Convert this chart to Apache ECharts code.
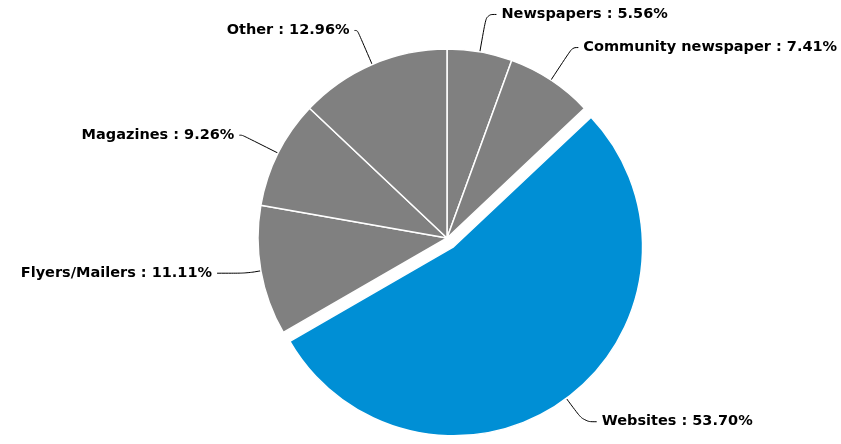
<!DOCTYPE html>
<html>
<head>
<meta charset="utf-8">
<script src="https://cdn.jsdelivr.net/npm/echarts@6/dist/echarts.min.js"></script>
<style>
  html, body { margin: 0; padding: 0; background: #fff; }
  #chart { width: 841px; height: 444px; }
</style>
</head>
<body>
<div id="chart"></div>
<script>
// Share of responses by advertising channel (percent)
const categories = ['Newspapers', 'Community newspaper', 'Websites', 'Flyers/Mailers', 'Magazines', 'Other'];
const shares = [5.56, 7.41, 53.70, 11.11, 9.26, 12.96];
const highlighted = 'Websites';

// Connector lengths per label: [radial part, horizontal part]
const connectors = [[38, 10], [39, 6], [29, 13], [14, 30], [40, 3], [37, 3]];

const GREY = '#808080';
const BLUE = '#008fd5';

const chart = echarts.init(document.getElementById('chart'), null, { renderer: 'canvas' });

const data = categories.map((name, i) => ({
  name: name,
  value: shares[i],
  selected: name === highlighted,
  itemStyle: { color: name === highlighted ? BLUE : GREY },
  labelLine: { length: connectors[i][0], length2: connectors[i][1] }
}));

chart.setOption({
  animation: false,
  backgroundColor: '#ffffff',
  series: [{
    type: 'pie',
    center: [447, 238],
    radius: [0, 189],
    startAngle: 90,
    clockwise: true,
    selectedMode: 'single',
    selectedOffset: 11,
    avoidLabelOverlap: false,
    itemStyle: { borderColor: '#ffffff', borderWidth: 1.5 },
    label: {
      show: true,
      position: 'outside',
      color: '#000',
      fontFamily: 'DejaVu Sans',
      fontWeight: 'bold',
      fontSize: 14.5,
      formatter: p => p.name + ' : ' + p.percent.toFixed(2) + '%'
    },
    labelLine: {
      show: true,
      smooth: 0.4,
      lineStyle: { color: '#000', width: 1 }
    },
    emphasis: { disabled: true },
    data: data
  }]
});
</script>
</body>
</html>
